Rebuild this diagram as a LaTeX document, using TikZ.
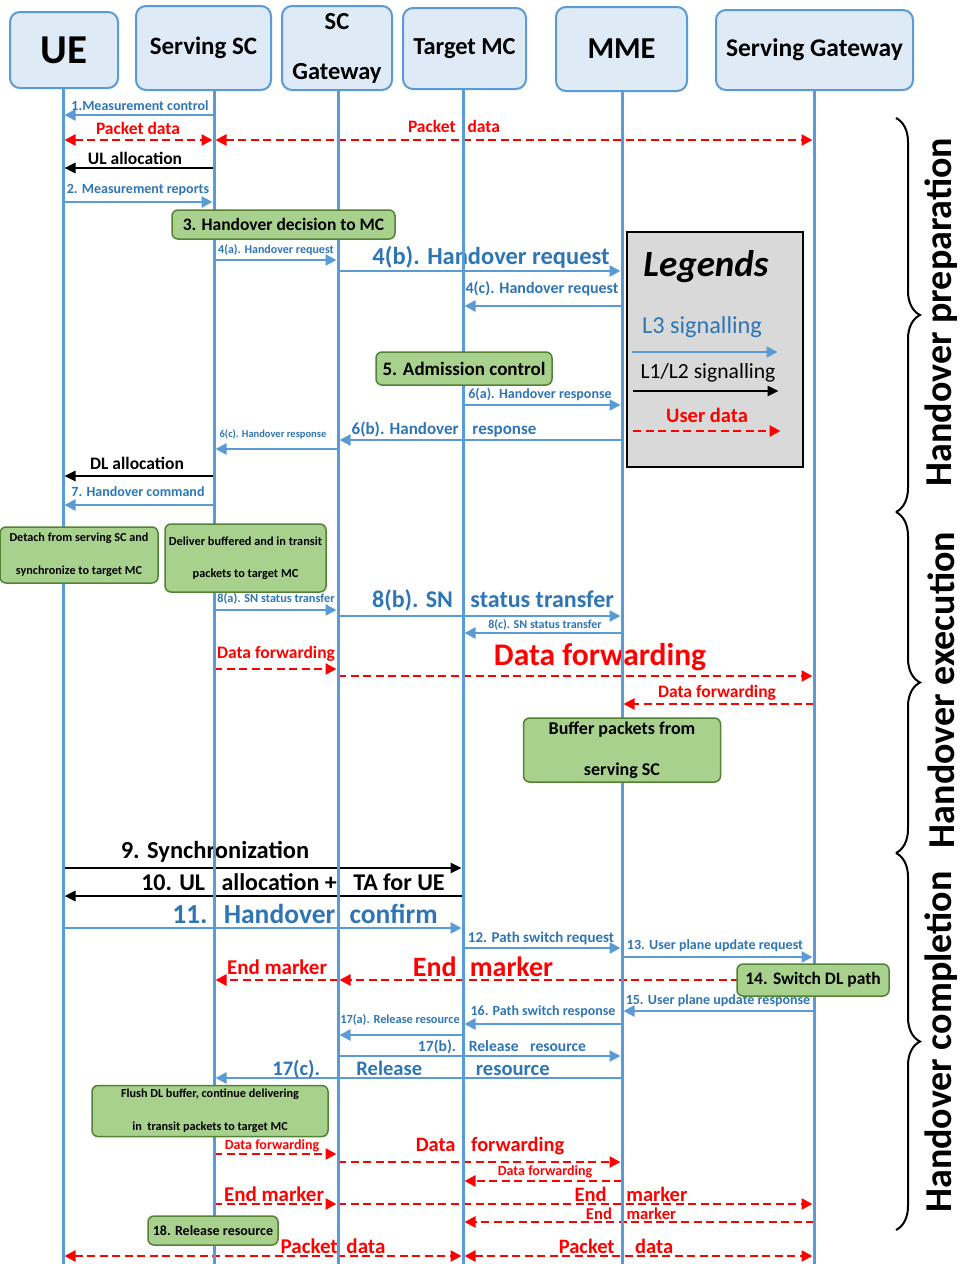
\documentclass[tikz,border=0pt]{standalone}
\usepackage{fontspec}
\setmainfont{Carlito}
\usepackage{xcolor}
\usepackage{tikz}
\usetikzlibrary{arrows.meta, positioning, calc, decorations.pathreplacing}
\definecolor{lineblue}{RGB}{91, 155, 213}
\definecolor{textblue}{RGB}{46, 117, 182}
\definecolor{headfill}{RGB}{222, 235, 247}
\definecolor{actgreen}{RGB}{169, 209, 142}
\definecolor{actedge}{RGB}{84, 130, 53}
\definecolor{legendgray}{RGB}{217, 217, 217}
\newcommand{\bsz}[1]{\bfseries\fontsize{#1}{#1}\selectfont}
\newcommand{\rsz}[1]{\fontsize{#1}{#1}\selectfont}

\tikzset{
    head/.style={draw=lineblue, line width=2pt, fill=headfill, rounded corners=10pt, align=center, inner sep=0pt},
    life/.style={lineblue, line width=3pt},
    l3/.style={lineblue, line width=2.5pt, shorten >=1.5pt, -{Triangle[length=11pt, width=11pt]}},
    l12/.style={black, line width=2.5pt, shorten >=1.5pt, -{Triangle[length=11pt, width=10pt]}},
    udata/.style={red, line width=2.5pt, dash pattern=on 8pt off 4.5pt, shorten >=1.5pt, -{Triangle[length=11pt, width=11pt]}},
    udata2/.style={udata, shorten <=1.5pt, {Triangle[length=11pt, width=11pt]}-{Triangle[length=11pt, width=11pt]}},
    act/.style={draw=actedge, line width=1.5pt, fill=actgreen, rounded corners=6pt, align=center, inner sep=0pt},
    bl/.style={text=textblue, inner sep=0pt},
    rl/.style={text=red, inner sep=0pt},
    kl/.style={text=black, inner sep=0pt},
    phase/.style={decorate, decoration={brace, amplitude=24pt}, line width=2pt}
}

\begin{document}
\begin{tikzpicture}[x=1pt, y=-1pt]
    \useasboundingbox (0,0) rectangle (963,1264);

    \node[head, minimum width=108pt, minimum height=76pt, font=\bsz{41}] (ue) at (64,50) {UE};
    \node[head, minimum width=135pt, minimum height=84pt, font=\bsz{25}] (ssc) at (203.5,48) {Serving SC};
    \node[head, minimum width=110pt, minimum height=84pt, font=\bfseries\fontsize{24.5}{50}\selectfont] (scgw) at (337,48) {SC\\Gateway};
    \node[head, minimum width=123pt, minimum height=81pt, font=\bsz{24.4}] (tmc) at (464.5,48.5) {Target MC};
    \node[head, minimum width=131pt, minimum height=84pt, font=\bsz{30.4}] (mme) at (621.5,49) {MME};
    \node[head, minimum width=197pt, minimum height=80pt, font=\bsz{25.5}] (sgw) at (814.5,50) {Serving Gateway};

    \coordinate (xue) at (63,0);
    \coordinate (xssc) at (214,0);
    \coordinate (xgw) at (338,0);
    \coordinate (xtmc) at (463,0);
    \coordinate (xmme) at (622,0);
    \coordinate (xsgw) at (814,0);

    \draw[l3] (xssc |- 0,115) -- (xue |- 0,115);
    \node[bl, font=\bsz{14}] (m1) at (140,106) {1.Measurement control};
    \draw[udata2] (xue |- 0,140) -- (xssc |- 0,140);
    \node[rl, font=\bsz{17.5}] (pd1) at (138,128) {Packet data};
    \draw[udata2] (xssc |- 0,140) -- (xsgw |- 0,140);
    \node[rl, font=\bsz{17.5}] (pd2) at (454,126) {Packet\hspace{8pt} data};
    \draw[l12] (xssc |- 0,168) -- (xue |- 0,168);
    \node[kl, font=\bsz{17.5}] (ula) at (135,158) {UL allocation};
    \draw[l3] (xue |- 0,202) -- (xssc |- 0,202);
    \node[bl, font=\bsz{14}] (m2) at (138,190) {2. Measurement reports};
    \draw[l3] (xssc |- 0,260) -- (xgw |- 0,260);
    \node[bl, font=\bsz{12}] (m4a) at (276,250) {4(a). Handover request};
    \draw[l3] (xgw |- 0,271) -- (xmme |- 0,271);
    \node[bl, font=\bsz{24.5}] (m4b) at (491,257) {4(b). Handover request};
    \draw[l3] (xmme |- 0,306) -- (xtmc |- 0,306);
    \node[bl, font=\bsz{16}] (m4c) at (542,289) {4(c). Handover request};
    \draw[l3] (xtmc |- 0,405) -- (xmme |- 0,405);
    \node[bl, font=\bsz{14}] (m6a) at (540,394) {6(a). Handover response};
    \draw[l3] (xmme |- 0,440) -- (xgw |- 0,440);
    \node[bl, font=\bsz{17}] (m6b) at (444,430) {6(b). Handover\hspace{10pt} response};
    \draw[l3] (xgw |- 0,449) -- (xssc |- 0,449);
    \node[bl, font=\bsz{10.5}] (m6c) at (273,434) {6(c). Handover response};
    \draw[l12] (xssc |- 0,476) -- (xue |- 0,476);
    \node[kl, font=\bsz{17.5}] (dla) at (137,463) {DL allocation};
    \draw[l3] (xssc |- 0,505) -- (xue |- 0,505);
    \node[bl, font=\bsz{14}] (m7) at (138,492) {7. Handover command};

    \draw[l3] (xssc |- 0,610) -- (xgw |- 0,610);
    \node[bl, font=\bsz{12.3}] (m8a) at (276,599) {8(a). SN status transfer};
    \draw[l3] (xgw |- 0,616) -- (xmme |- 0,616);
    \node[bl, font=\bsz{24}] (m8b) at (493,600) {8(b). SN\hspace{12pt} status transfer};
    \draw[l3] (xmme |- 0,633) -- (xtmc |- 0,633);
    \node[bl, font=\bsz{12}] (m8c) at (545,625) {8(c). SN status transfer};
    \draw[udata] (xssc |- 0,669) -- (xgw |- 0,669);
    \node[rl, font=\bsz{17.5}] (df1) at (276,654) {Data forwarding};
    \draw[udata] (xgw |- 0,676) -- (xsgw |- 0,676);
    \node[rl, font=\bsz{31.5}] (df2) at (600,657) {Data forwarding};
    \draw[udata] (xsgw |- 0,704) -- (xmme |- 0,704);
    \node[rl, font=\bsz{17.5}] (df3) at (717,693) {Data forwarding};

    \draw[l12] (xue |- 0,868) -- (xtmc |- 0,868);
    \node[kl, font=\bsz{24.5}] (m9) at (215,852) {9. Synchronization};
    \draw[l12] (xtmc |- 0,896) -- (xue |- 0,896);
    \node[kl, font=\bsz{24}] (m10) at (293,882) {10. UL\hspace{11pt} allocation +\hspace{11pt} TA for UE};
    \draw[l3] (xue |- 0,928) -- (xtmc |- 0,928);
    \node[bl, font=\bsz{27.5}] (m11) at (305,914) {11.\hspace{8pt} Handover\hspace{8pt} confirm};
    \draw[l3] (xtmc |- 0,948) -- (xmme |- 0,948);
    \node[bl, font=\bsz{15}] (m12) at (541,938) {12. Path switch request};
    \draw[l3] (xmme |- 0,957) -- (xsgw |- 0,957);
    \node[bl, font=\bsz{14}] (m13) at (715,946) {13. User plane update request};
    \draw[udata] (xgw |- 0,980) -- (xssc |- 0,980);
    \node[rl, font=\bsz{21}] (em1) at (277,967) {End marker};
    \draw[udata] (xsgw |- 0,980) -- (xgw |- 0,980);
    \node[rl, font=\bsz{28}] (em2) at (483,967) {End\hspace{7pt} marker};
    \draw[l3] (xsgw |- 0,1011) -- (xmme |- 0,1011);
    \node[bl, font=\bsz{14}] (m15) at (718,1001) {15. User plane update response};
    \draw[l3] (xmme |- 0,1024) -- (xtmc |- 0,1024);
    \node[bl, font=\bsz{14}] (m16) at (543,1012) {16. Path switch response};
    \draw[l3] (xtmc |- 0,1035) -- (xgw |- 0,1035);
    \node[bl, font=\bsz{12.3}] (m17a) at (400,1020) {17(a). Release resource};
    \draw[l3] (xgw |- 0,1056) -- (xmme |- 0,1056);
    \node[bl, font=\bsz{15.6}] (m17b) at (502,1047) {17(b).\hspace{8pt} Release\hspace{8pt} resource};
    \draw[l3] (xmme |- 0,1078) -- (xssc |- 0,1078);
    \node[bl, font=\bsz{20.6}] (m17c) at (411,1069) {17(c).\hspace{30pt} Release\hspace{49pt} resource};
    \draw[udata] (xssc |- 0,1154) -- (xgw |- 0,1154);
    \node[rl, font=\bsz{14}] (df4) at (272,1146) {Data forwarding};
    \draw[udata] (xgw |- 0,1162) -- (xmme |- 0,1162);
    \node[rl, font=\bsz{20.4}] (df5) at (490,1146) {Data\hspace{11pt} forwarding};
    \draw[udata] (xmme |- 0,1181) -- (xtmc |- 0,1181);
    \node[rl, font=\bsz{14}] (df6) at (545,1172) {Data forwarding};
    \draw[udata] (xssc |- 0,1204) -- (xgw |- 0,1204);
    \node[rl, font=\bsz{21}] (em3) at (274,1194) {End marker};
    \draw[udata] (xgw |- 0,1204) -- (xsgw |- 0,1204);
    \node[rl, font=\bsz{20.5}] (em4) at (631,1194) {End\hspace{15pt} marker};
    \draw[udata] (xsgw |- 0,1222) -- (xtmc |- 0,1222);
    \node[rl, font=\bsz{16.6}] (em5) at (631,1214) {End\hspace{11pt} marker};
    \draw[udata2] (xue |- 0,1256) -- (xtmc |- 0,1256);
    \node[rl, font=\bsz{21}] (pd3) at (333,1246) {Packet\hspace{4pt} data};
    \draw[udata2] (xtmc |- 0,1256) -- (xsgw |- 0,1256);
    \node[rl, font=\bsz{20.5}] (pd4) at (616,1246) {Packet\hspace{16pt} data};

    \foreach \h/\x in {ue/xue, ssc/xssc, scgw/xgw, tmc/xtmc, mme/xmme, sgw/xsgw}
        \draw[life] (\x |- \h.south) -- (\x |- 0,1264);

    \node[act, minimum width=223pt, minimum height=29pt, font=\bsz{17.5}] (a3) at (283.5,224.5) {3. Handover decision to MC};
    \node[act, minimum width=176pt, minimum height=33pt, font=\bsz{19}] (a5) at (464,368.5) {5. Admission control};
    \node[act, minimum width=158pt, minimum height=56pt, font=\bfseries\fontsize{12.2}{33}\selectfont] (adet) at (79,555) {Detach from serving SC and\\synchronize to target MC};
    \node[act, minimum width=161pt, minimum height=68pt, font=\bfseries\fontsize{12.3}{32}\selectfont] (adel) at (245.5,558) {Deliver buffered and in transit\\packets to target MC};
    \node[act, minimum width=197pt, minimum height=64pt, font=\bfseries\fontsize{18}{41}\selectfont] (abuf) at (622,750) {Buffer packets from\\serving SC};
    \node[act, minimum width=152pt, minimum height=32pt, font=\bsz{17.5}] (a14) at (813,980) {14. Switch DL path};
    \node[act, minimum width=236pt, minimum height=51pt, font=\bfseries\fontsize{12.2}{33}\selectfont] (aflush) at (210,1111) {Flush DL buffer, continue delivering\\in\ \ transit packets to target MC};
    \node[act, minimum width=130pt, minimum height=29pt, font=\bsz{14}] (a18) at (213,1230.5) {18. Release resource};

    \node[draw=black, line width=2pt, fill=legendgray, minimum width=176pt, minimum height=235pt] (legend) at (715,349.5) {};
    \node[kl, font=\bfseries\itshape\fontsize{37}{37}\selectfont] (lgtitle) at (706,267) {Legends};
    \node[bl, font=\rsz{24.3}] (lgl3) at (702,327) {L3 signalling};
    \draw[l3] ([xshift=6pt]legend.west |- 0,352) -- ([xshift=-25pt]legend.east |- 0,352);
    \node[kl, font=\rsz{21.6}] (lgl12) at (708,373) {L1/L2 signalling};
    \draw[l12] ([xshift=7pt]legend.west |- 0,391) -- ([xshift=-24pt]legend.east |- 0,391);
    \node[rl, font=\bsz{20.5}] (lgud) at (707,415) {User data};
    \draw[udata] ([xshift=7pt]legend.west |- 0,431) -- ([xshift=-22pt]legend.east |- 0,431);

    \draw[phase] (896,118) -- (896,512);
    \draw[phase] (896,512) -- (896,853);
    \draw[phase] (896,853) -- (896,1230);
    \node[kl, rotate=90, font=\bsz{38}] (ph1) at (941,312) {Handover preparation};
    \node[kl, rotate=90, font=\bsz{38}] (ph2) at (941,690) {Handover execution};
    \node[kl, rotate=90, font=\bsz{38}] (ph3) at (941,1042) {Handover completion};
\end{tikzpicture}
\end{document}
